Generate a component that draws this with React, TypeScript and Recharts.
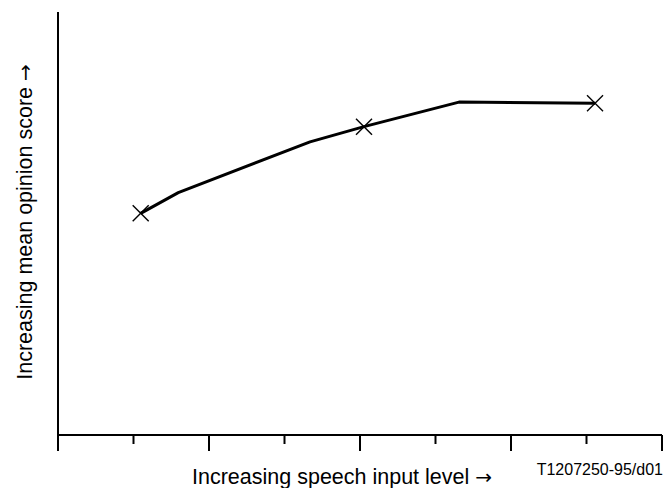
import { ComposedChart, Line, Scatter, XAxis, YAxis, Label } from 'recharts';

// x positions along the input-level axis (8 tick intervals), y is MOS in arbitrary units 0-10
const curveX = [1.095, 1.593, 3.338, 4.053, 5.311, 7.113];
const curveY = [5.24, 5.73, 6.93, 7.29, 7.87, 7.84];
const markX = [1.095, 4.053, 7.113];
const markY = [5.24, 7.29, 7.84];
const xTicks = [0, 1, 2, 3, 4, 5, 6, 7, 8];

const curve = curveX.map((x, i) => ({ x, y: curveY[i] }));
const marks = markX.map((x, i) => ({ x, y: markY[i] }));

const FONT = '"Liberation Sans", Arial, sans-serif';
const ARROW_FONT = '"DejaVu Sans", sans-serif';

function TickMark(props: any) {
  const { x, y, payload } = props;
  const len = payload.value % 2 === 0 ? 16 : 9;
  return <line x1={x} y1={y} x2={x} y2={y + len} stroke="#000" strokeWidth={2} />;
}

function CrossMark(props: any) {
  const { cx, cy } = props;
  const s = 8;
  return (
    <g stroke="#000" strokeWidth={1.4}>
      <line x1={cx - s} y1={cy - s} x2={cx + s} y2={cy + s} />
      <line x1={cx - s} y1={cy + s} x2={cx + s} y2={cy - s} />
    </g>
  );
}

export default function App() {
  return (
    <div style={{ width: 663, height: 488, background: '#fff' }}>
      <style>{'body{margin:0}'}</style>
      <ComposedChart width={663} height={488} margin={{ top: 12, right: 1, left: 57, bottom: 0 }}>
        <XAxis
          type="number"
          dataKey="x"
          domain={[0, 8]}
          ticks={xTicks}
          interval={0}
          height={53}
          tickSize={0}
          tickMargin={0}
          tickLine={false}
          tick={<TickMark />}
          axisLine={{ stroke: '#000', strokeWidth: 2 }}
        >
          <Label
            content={(p: any) => {
              const vb = p.viewBox;
              return (
                <g fontFamily={FONT} fill="#000">
                  <text x={vb.x + 134} y={vb.y + 49} fontSize={21.5}>
                    Increasing speech input level <tspan fontFamily={ARROW_FONT} fontSize={20}>→</tspan>
                  </text>
                  <text x={vb.x + vb.width + 1} y={vb.y + 40} fontSize={16} textAnchor="end">
                    T1207250-95/d01
                  </text>
                </g>
              );
            }}
          />
        </XAxis>
        <YAxis
          type="number"
          dataKey="y"
          domain={[0, 10]}
          width={1}
          tick={false}
          tickLine={false}
          axisLine={{ stroke: '#000', strokeWidth: 2 }}
        >
          <Label
            content={(p: any) => {
              const vb = p.viewBox;
              const cx = 32;
              const cy = vb.y + 210;
              return (
                <text
                  x={cx}
                  y={cy}
                  fontSize={21.5}
                  fontFamily={FONT}
                  fill="#000"
                  textAnchor="middle"
                  transform={`rotate(-90, ${cx}, ${cy})`}
                >
                  Increasing mean opinion score <tspan fontFamily={ARROW_FONT} fontSize={20}>→</tspan>
                </text>
              );
            }}
          />
        </YAxis>
        <Line
          data={curve}
          dataKey="y"
          type="linear"
          stroke="#000"
          strokeWidth={3}
          strokeLinejoin="round"
          dot={false}
          activeDot={false}
          isAnimationActive={false}
        />
        <Scatter data={marks} dataKey="y" shape={<CrossMark />} isAnimationActive={false} />
      </ComposedChart>
    </div>
  );
}
